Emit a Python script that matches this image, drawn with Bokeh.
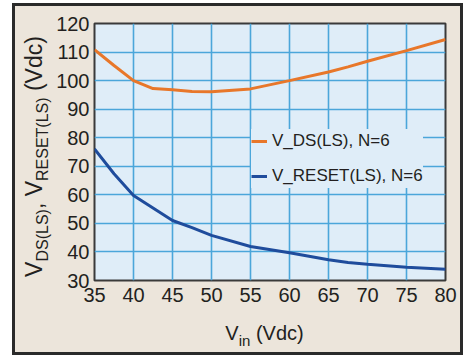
import math
from bokeh.plotting import figure
from bokeh.layouts import row, column
from bokeh.models import Label, Legend, LegendItem, Range1d
from bokeh.embed import file_html
from bokeh.resources import INLINE

# ---- data ----
vin = [35, 37.5, 40, 42.5, 45, 47.5, 50, 55, 60, 65, 67.5, 70, 75, 80]
v_ds_ls = [110.8, 105.3, 100.0, 97.2, 96.8, 96.2, 96.1, 97.1, 100.0, 103.0, 104.8, 106.8, 110.5, 114.4]
v_reset_ls = [76.1, 67.4, 59.8, 55.4, 51.0, 48.5, 45.8, 41.9, 39.7, 37.3, 36.3, 35.7, 34.6, 33.9]
x_ticks = [35, 40, 45, 50, 55, 60, 65, 70, 75, 80]
y_ticks = [30, 40, 50, 60, 70, 80, 90, 100, 110, 120]
series_names = ["V_DS(LS), N=6", "V_RESET(LS), N=6"]

FONT = "Liberation Sans"
INK = "#231f20"
ORANGE = "#e8772a"
BLUE = "#1f4c9c"
BEIGE = "#ece5db"
PLOT_BG = "#dfedf8"
GRID = "#4ba6da"

# page geometry (px)
X0, Y0 = 15, 6            # inner top-left of the framed box
YT_W = 37                 # width of the y-title strip
TOP_H = 306               # height of the plot figure
XT_H = 40                 # height of the x-title strip
P_W = 408
P_LEFT = 42               # left border of the plot figure
FRAME_LEFT = X0 + YT_W + P_LEFT

p = figure(width=P_W, height=TOP_H, x_range=Range1d(35, 80), y_range=Range1d(30, 120),
           output_backend="svg", toolbar_location=None,
           min_border_left=P_LEFT, min_border_right=15, min_border_top=17, min_border_bottom=32)
p.border_fill_color = BEIGE
p.background_fill_color = PLOT_BG
p.outline_line_color = "#3a3a3a"
p.outline_line_width = 2

for ax in (p.xaxis[0], p.yaxis[0]):
    ax.axis_line_color = None
    ax.major_tick_line_color = None
    ax.minor_tick_line_color = None
    ax.major_tick_out = 0
    ax.major_tick_in = 0
    ax.minor_tick_out = 0
    ax.minor_tick_in = 0
    ax.major_label_text_font = FONT
    ax.major_label_text_font_size = "20px"
    ax.major_label_text_color = INK
p.xaxis.ticker = x_ticks
p.yaxis.ticker = y_ticks
p.xaxis.major_label_standoff = 7
p.yaxis.major_label_standoff = 5

for g in (p.xgrid[0], p.ygrid[0]):
    g.grid_line_color = GRID
    g.grid_line_width = 1.6
    g.grid_line_alpha = 1.0
p.xgrid.ticker = x_ticks
p.ygrid.ticker = y_ticks

r1 = p.line(vin, v_ds_ls, line_color=ORANGE, line_width=3)
r2 = p.line(vin, v_reset_ls, line_color=BLUE, line_width=3)

legend = Legend(items=[LegendItem(label=series_names[0], renderers=[r1]),
                       LegendItem(label=series_names[1], renderers=[r2])],
                location=(157, 92), margin=0, padding=6, spacing=11,
                label_height=24, glyph_height=24, glyph_width=16, label_standoff=5,
                label_text_font=FONT, label_text_font_size="17px", label_text_color=INK,
                background_fill_color=PLOT_BG, background_fill_alpha=1.0,
                border_line_color=None)
p.add_layout(legend)


def strip(w, h):
    s = figure(width=w, height=h, output_backend="svg", toolbar_location=None,
               x_axis_type=None, y_axis_type=None, min_border=0,
               x_range=Range1d(0, 1), y_range=Range1d(0, 1))
    s.border_fill_color = BEIGE
    s.background_fill_color = BEIGE
    s.outline_line_color = None
    s.grid.visible = False
    return s


# ---- axis titles with subscripts, built from text pieces ----
AW = {"V": 667, "D": 722, "S": 667, "(": 333, ")": 333, "L": 556, ",": 278, " ": 278,
      "R": 722, "E": 667, "T": 611, "d": 556, "c": 500, "i": 222, "n": 556}
MID = 0.35   # centre of the text box above the baseline, in em


def tw(s, size):
    return sum(AW[c] for c in s) / 1000.0 * size


# y title strip (full height): reads bottom to top; (text, size, baseline x on page, gap after)
YT_H = TOP_H + XT_H
yt = strip(YT_W, YT_H)
yt_bottom = Y0 + YT_H
F, f = 23, 16
ypieces = [("V", F, 42, 0), ("DS(LS)", f, 47.5, 0), (",", F, 42, tw(" ", F)),
           ("V", F, 42, 0), ("RESET(LS)", f, 47.5, tw(" ", F)), ("(Vdc)", F, 42, 0)]
total = sum(tw(t, s) + g for t, s, _, g in ypieces)
pos = 156 + total / 2
for t, s, bx, g in ypieces:
    w = tw(t, s)
    cx = bx - MID * s
    cy = pos - w / 2
    yt.add_layout(Label(x=cx - X0, y=yt_bottom - cy, x_units="screen", y_units="screen", text=t,
                        angle=math.pi / 2, text_align="center", text_baseline="middle",
                        text_font=FONT, text_font_size=f"{s}px", text_color=INK))
    pos -= w + g

# x title strip (under the plot figure; its frame is aligned with the plot frame)
xt = strip(P_W, XT_H)
xt_bottom = Y0 + TOP_H + XT_H
F2, f2 = 20, 15
xpieces = [("V", F2, 339.5, 0), ("in", f2, 345, tw(" ", F2)), ("(Vdc)", F2, 339.5, 0)]
total = sum(tw(t, s) + g for t, s, _, g in xpieces)
pos = 264 - total / 2
for t, s, by, g in xpieces:
    w = tw(t, s)
    cx = pos + w / 2
    cy = by - MID * s
    xt.add_layout(Label(x=cx - FRAME_LEFT, y=xt_bottom - cy, x_units="screen", y_units="screen", text=t,
                        text_align="center", text_baseline="middle",
                        text_font=FONT, text_font_size=f"{s}px", text_color=INK))
    pos += w + g

layout = row(yt, column(p, xt, spacing=0), spacing=0)
layout.styles = {"outline": "3px solid #2a2a2a", "margin-left": f"{X0}px", "margin-top": f"{Y0}px",
                 "background-color": BEIGE}

open("out.html", "w").write(file_html(layout, INLINE))
